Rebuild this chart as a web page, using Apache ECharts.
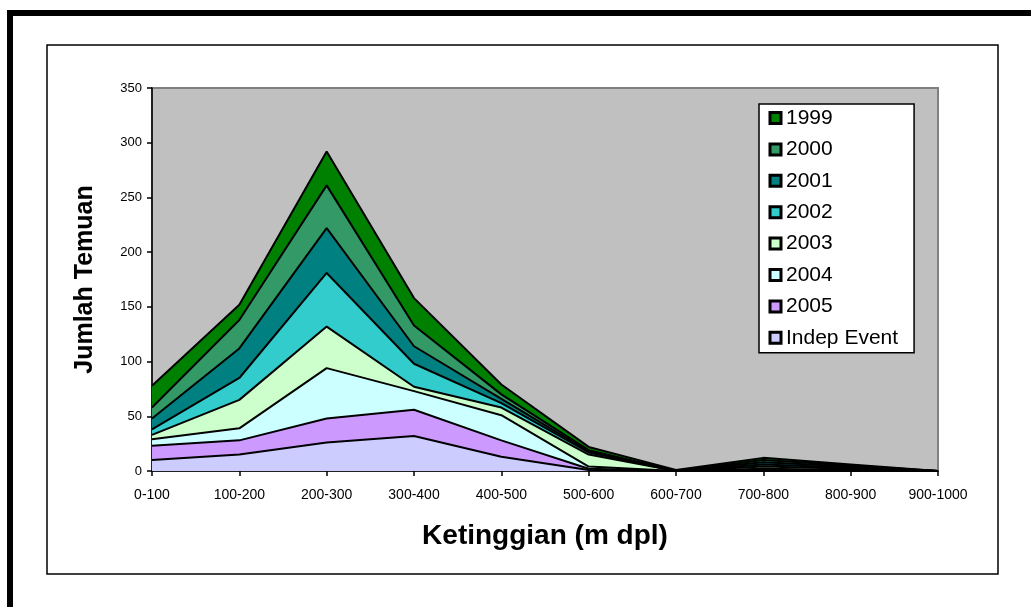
<!DOCTYPE html>
<html>
<head>
<meta charset="utf-8">
<script src="https://cdn.jsdelivr.net/npm/echarts@6/dist/echarts.min.js"></script>
<style>
html,body{margin:0;padding:0;background:#fff;}
#chart{width:1031px;height:607px;}
</style>
</head>
<body>
<div id="chart"></div>
<script>
const categories = ['0-100','100-200','200-300','300-400','400-500','500-600','600-700','700-800','800-900','900-1000'];
const yTicks = [0, 50, 100, 150, 200, 250, 300, 350];

const seriesNames = ['Indep Event','2005','2004','2003','2002','2001','2000','1999'];
const indepEvent = [10, 15, 26, 32, 13, 1, 0, 0, 0, 0];
const y2005 = [13, 13, 22, 24, 15, 1, 0, 1, 1, 0];
const y2004 = [6, 11, 46, 17, 23, 2, 0, 1, 0, 0];
const y2003 = [4, 26, 38, 4, 7, 11, 0, 2, 1, 0];
const y2002 = [5, 20, 49, 21, 4, 2, 0, 2, 1, 0];
const y2001 = [10, 27, 41, 16, 4, 1, 0, 2, 1, 0];
const y2000 = [10, 26, 39, 19, 4, 1, 0, 2, 1, 0];
const y1999 = [20, 14, 31, 25, 9, 3, 1, 2, 1, 0];
const seriesValues = [indepEvent, y2005, y2004, y2003, y2002, y2001, y2000, y1999];
const seriesColors = ['#CCCCFF','#CC99FF','#CCFFFF','#CCFFCC','#33CCCC','#008080','#339966','#008000'];
const legendOrder = ['1999','2000','2001','2002','2003','2004','2005','Indep Event'];

const FONT = '"Liberation Sans", Arial, sans-serif';
const chart = echarts.init(document.getElementById('chart'));

const series = seriesNames.map((n, i) => ({
  name: n,
  type: 'line',
  stack: 'total',
  data: seriesValues[i],
  symbol: 'none',
  color: seriesColors[i],
  lineStyle: { color: '#000', width: 2 },
  itemStyle: { color: seriesColors[i] },
  areaStyle: { color: seriesColors[i], opacity: 1 },
  emphasis: { disabled: true },
  animation: false
}));

chart.setOption({
  animation: false,
  backgroundColor: '#fff',
  textStyle: { fontFamily: FONT },
  graphic: [
    { type: 'rect', shape: { x: 7, y: 10, width: 1030, height: 6 }, style: { fill: '#000' } },
    { type: 'rect', shape: { x: 7, y: 10, width: 6, height: 600 }, style: { fill: '#000' } },
    { type: 'rect', shape: { x: 47, y: 45, width: 951, height: 529 }, style: { fill: 'none', stroke: '#000', lineWidth: 1.5 } }
  ],
  grid: {
    left: 152, right: 93, top: 88, bottom: 136,
    show: true, backgroundColor: '#C0C0C0', borderColor: '#808080', borderWidth: 2
  },
  legend: {
    orient: 'vertical',
    left: 759, top: 104,
    data: legendOrder.map(n => ({ name: n, itemStyle: { color: seriesColors[seriesNames.indexOf(n)] } })),
    icon: 'rect',
    itemWidth: 11, itemHeight: 11,
    itemGap: 9.4,
    itemTextGap: 8,
    itemStyle: { borderColor: '#000', borderWidth: 3 },
    padding: [3, 16, 4, 9.5],
    backgroundColor: '#fff',
    borderColor: '#000',
    borderWidth: 1.5,
    textStyle: { fontFamily: FONT, fontSize: 21, lineHeight: 22, color: '#000' },
    selectedMode: false
  },
  xAxis: {
    type: 'category',
    data: categories,
    boundaryGap: false,
    name: 'Ketinggian (m dpl)',
    nameLocation: 'middle',
    nameGap: 51,
    nameTextStyle: { fontFamily: FONT, fontSize: 28, fontWeight: 'bold', color: '#000' },
    axisLine: { lineStyle: { color: '#000', width: 1.5 } },
    axisTick: { show: true, length: 5, lineStyle: { color: '#000', width: 1.5 } },
    axisLabel: { fontFamily: FONT, fontSize: 14, color: '#000', margin: 17, interval: 0 },
    splitLine: { show: false }
  },
  yAxis: {
    type: 'value',
    min: yTicks[0], max: yTicks[yTicks.length - 1], interval: 50,
    name: 'Jumlah Temuan',
    nameLocation: 'middle',
    nameRotate: 90,
    nameGap: 54,
    nameTextStyle: { fontFamily: FONT, fontSize: 25, fontWeight: 'bold', color: '#000' },
    axisLine: { show: true, lineStyle: { color: '#000', width: 1.5 } },
    axisTick: { show: true, length: 5, lineStyle: { color: '#000', width: 1.5 } },
    axisLabel: { fontFamily: FONT, fontSize: 13, color: '#000', margin: 10 },
    splitLine: { show: false }
  },
  series: series
});
</script>
</body>
</html>
